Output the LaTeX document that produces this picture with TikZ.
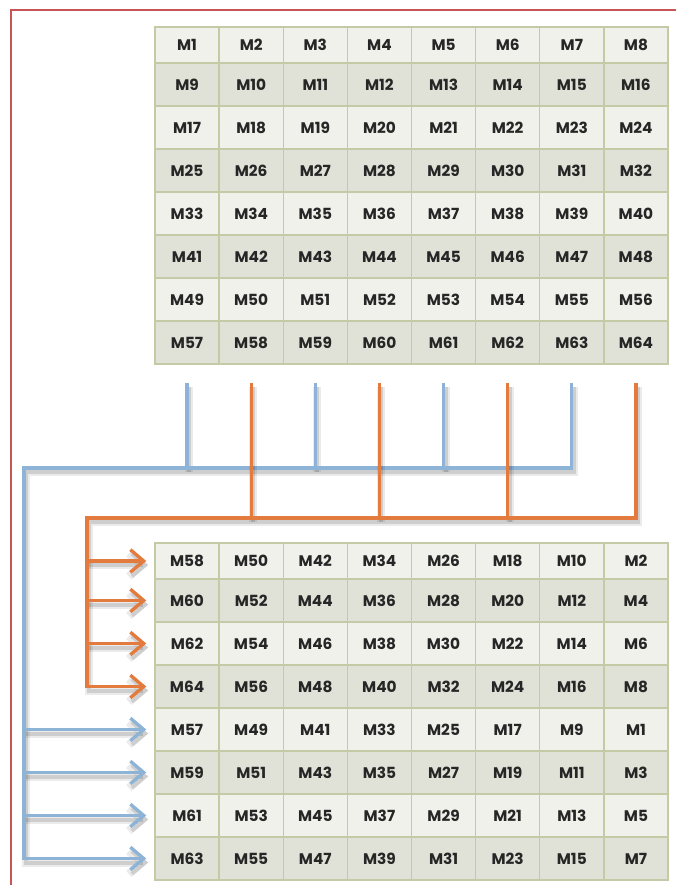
\documentclass[tikz,border=0pt]{standalone}
\usepackage{fontspec}
\setmainfont{Poppins}
\usetikzlibrary{arrows.meta, positioning, calc}
\definecolor{myframe}{RGB}{200, 85, 85}
\definecolor{mygrid}{RGB}{196, 202, 166}
\definecolor{mylite}{RGB}{241, 241, 236}
\definecolor{mydark}{RGB}{224, 225, 215}
\definecolor{myb}{RGB}{141, 180, 214}
\definecolor{myo}{RGB}{227, 123, 62}
\tikzset{
  cell/.style={draw=mygrid, line width=1.1pt, minimum width=48.1pt, inner sep=0pt,
    font=\bfseries\fontsize{11.5}{13}\selectfont, text=black!85},
  literow/.style={cell, fill=mylite},
  darkrow/.style={cell, fill=mydark},
  wire/.style={line width=2.5pt,
    preaction={draw=black, opacity=0.08, line width=6pt,
      transform canvas={xshift=1.5pt, yshift=-3pt}},
    preaction={draw=black, opacity=0.12, line width=3pt,
      transform canvas={xshift=1.5pt, yshift=-3pt}}},
  bluewire/.style={wire, draw=myb},
  orangewire/.style={wire, draw=myo},
  tip/.style={-{Straight Barb[length=10pt, width=17pt]}, shorten >=6pt},
}

\begin{document}
\begin{tikzpicture}[x=0.75pt, y=-0.75pt]
        \useasboundingbox (0,0) rectangle (675,885);
        \draw[myframe, line width=1.6pt] (11,10) rectangle (700,900);

        % source matrix
        \foreach \r/\rs in {1/literow, 2/darkrow, 3/literow, 4/darkrow, 5/literow, 6/darkrow, 7/literow, 8/darkrow}
        {
            \foreach \c in {1,...,8}
            {
                \pgfmathtruncatemacro{\n}{8*(\r-1)+\c}
                \pgfmathsetmacro{\yc}{\r==1 ? 45 : 84.5+43*(\r-2)}
                \pgfmathsetmacro{\hh}{\r==1 ? 27 : 32.25}
                \node[\rs, minimum height=\hh pt] (t-\r-\c) at ({155+64.125*(\c-0.5)},\yc) {M\n};
            }
        }

        % rotated matrix
        \foreach \r/\k/\rs in {1/2/literow, 2/4/darkrow, 3/6/literow, 4/8/darkrow, 5/1/literow, 6/3/darkrow, 7/5/literow, 8/7/darkrow}
        {
            \foreach \c in {1,...,8}
            {
                \pgfmathtruncatemacro{\n}{8*(8-\c)+\k}
                \pgfmathsetmacro{\yc}{\r==1 ? 561 : 600.5+43*(\r-2)}
                \pgfmathsetmacro{\hh}{\r==1 ? 27 : 32.25}
                \node[\rs, minimum height=\hh pt] (b-\r-\c) at ({155+64.125*(\c-0.5)},\yc) {M\n};
            }
        }

        \coordinate (drop) at (0,383);
        \coordinate (bluebus) at (24,468);
        \coordinate (orangebus) at (87,518);

        % odd columns
        \foreach \c in {1,3,5}
            \draw[bluewire] (t-8-\c.south |- drop) -- (t-8-\c.south |- bluebus);
        \draw[bluewire, tip] (t-8-7.south |- drop) -- (t-8-7.south |- bluebus) -- (bluebus) -- (bluebus |- b-8-1.west) -- (b-8-1.west);
        \foreach \r in {5,6,7}
            \draw[bluewire, tip] (bluebus |- b-\r-1.west) -- (b-\r-1.west);

        % even columns
        \foreach \c in {2,4,6}
            \draw[orangewire] (t-8-\c.south |- drop) -- (t-8-\c.south |- orangebus);
        \draw[orangewire, tip] (t-8-8.south |- drop) -- (t-8-8.south |- orangebus) -- (orangebus) -- (orangebus |- b-4-1.west) -- (b-4-1.west);
        \foreach \r in {1,2,3}
            \draw[orangewire, tip] (orangebus |- b-\r-1.west) -- (b-\r-1.west);
    \end{tikzpicture}
\end{document}
